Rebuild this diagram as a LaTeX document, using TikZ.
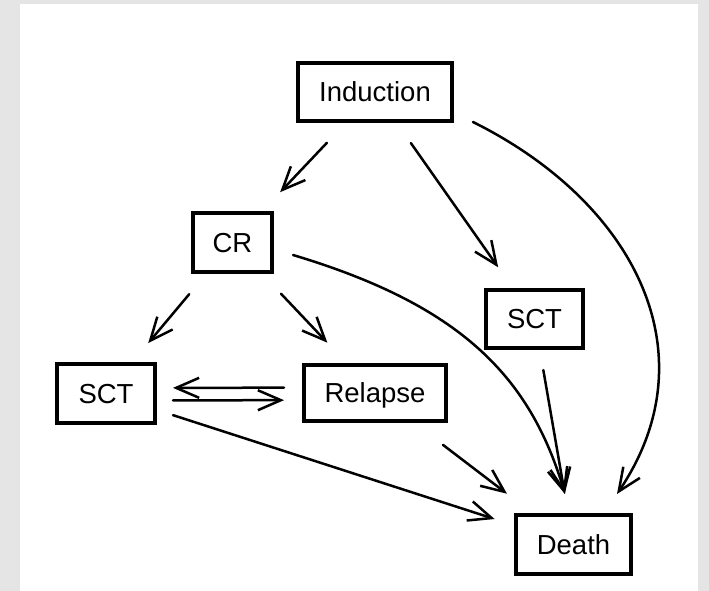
\documentclass[tikz,border=0pt]{standalone}
\usepackage{fontspec}
\setmainfont{Liberation Sans}
\usetikzlibrary{arrows.meta,calc}
\definecolor{framegray}{HTML}{E5E5E5}
\tikzset{
  statebox/.style={draw, line width=3.8pt, inner sep=0pt,
    text height=19.7pt, text depth=0pt,
    font=\fontsize{27.5}{33}\selectfont},
  arr/.style={line width=2.5pt, line cap=round, line join=round,
    -{Straight Barb[length=23pt,width=20pt]}},
}
\begin{document}
\begin{tikzpicture}[x=1pt,y=-1pt]
  % frame and canvas
  \fill[framegray] (0,0) rectangle (709,591);
  \fill[white] (20,4) rectangle (698,591);
  \useasboundingbox (0,0) rectangle (709,591);

  % states
  \node[statebox, minimum width=154.2pt, minimum height=58.2pt] (ind)   at (375,92)      {Induction};
  \node[statebox, minimum width=79.2pt,  minimum height=59.2pt] (cr)    at (232.5,242.5) {CR};
  \node[statebox, minimum width=97.2pt,  minimum height=58.2pt] (sctr)  at (534.5,319)   {SCT};
  \node[statebox, minimum width=98.2pt,  minimum height=59.2pt] (sctl)  at (106,393.5)   {SCT};
  \node[statebox, minimum width=142.2pt, minimum height=56.2pt] (rel)   at (375,393)     {Relapse};
  \node[statebox, minimum width=115.2pt, minimum height=59.2pt] (death) at (573.5,544.5) {Death};

  % straight transitions
  \draw[arr, shorten <=70pt,   shorten >=69.3pt] (ind.center)  -- (cr.center);
  \draw[arr, shorten <=62.4pt, shorten >=63.2pt] (ind.center)  -- (sctr.center);
  \draw[arr, shorten <=67.4pt, shorten >=65.7pt] (cr.center)   -- (sctl.center);
  \draw[arr, shorten <=70.7pt, shorten >=69.3pt] (cr.center)   -- (rel.center);
  \draw[arr, shorten <=91pt,   shorten >=67pt]   ([yshift=5.5pt]rel.center)  -- ([yshift=5.5pt]sctl.center);
  \draw[arr, shorten <=67pt,   shorten >=91pt]   ([yshift=-7pt]sctl.center)  -- ([yshift=-7pt]rel.center);
  \draw[arr, shorten <=70.4pt, shorten >=82.9pt] (sctl.center) -- (death.center);
  \draw[arr, shorten <=85.5pt, shorten >=83.7pt] (rel.center)  -- (death.center);
  \draw[arr, shorten <=51.8pt, shorten >=51.3pt] (sctr.center) -- (death.center);

  % curved transitions
  \draw[arr] ([shift={(98,30)}]ind.center)
    .. controls (634,202) and (712,353) .. ([shift={(43.5,-50.5)}]death.center);
  \draw[arr] ([shift={(60.5,12.5)}]cr.center)
    .. controls (460,305) and (530,376) .. ([shift={(-8.5,-50.5)}]death.center);
\end{tikzpicture}
\end{document}
